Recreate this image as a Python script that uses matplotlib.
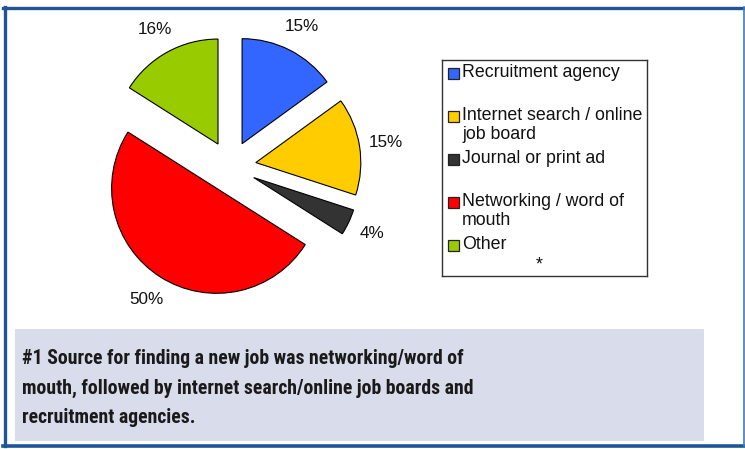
import matplotlib
matplotlib.use("Agg")
import matplotlib.pyplot as plt
from matplotlib.patches import Rectangle
from matplotlib.lines import Line2D

# ---- data ----
categories = ["Recruitment agency", "Internet search / online\njob board",
              "Journal or print ad", "Networking / word of\nmouth", "Other"]
values = [15, 15, 4, 50, 16]
colors = ["#3366FF", "#FFCC00", "#333333", "#FF0000", "#99CC00"]
caption = ("#1 Source for finding a new job was networking/word of\n"
           "mouth, followed by internet search/online job boards and\n"
           "recruitment agencies.")

W, H = 745, 449
fig = plt.figure(figsize=(W / 100, H / 100), dpi=100)
fig.patch.set_facecolor("white")

def fx(x):
    return x / W

def fy(y):
    return 1 - y / H

# ---- outer frame ----
border = "#1F5597"
fig.add_artist(Line2D([fx(3), fx(744)], [fy(7.5), fy(7.5)], color=border, lw=2.4, transform=fig.transFigure))
fig.add_artist(Line2D([fx(4.5), fx(4.5)], [fy(6.5), fy(446)], color=border, lw=2.4, transform=fig.transFigure))
fig.add_artist(Line2D([fx(3), fx(745)], [fy(445.5), fy(445.5)], color=border, lw=2.6, transform=fig.transFigure))
fig.add_artist(Line2D([fx(743.8), fx(743.8)], [fy(6.5), fy(446)], color="#3D7CC0", lw=1.2, transform=fig.transFigure))

# ---- caption box ----
fig.add_artist(Rectangle((fx(15), fy(441)), fx(704) - fx(15), fy(329) - fy(441),
                         facecolor="#D9DCEA", edgecolor="none", transform=fig.transFigure))
fig.text(fx(22), fy(388), caption, ha="left", va="center", fontsize=14.2,
         fontweight="bold", family=["Roboto Condensed", "DejaVu Sans"],
         color="#1a1a1a", linespacing=1.68)

# ---- pie ----
R = 105.0
cx, cy = 230.4, 166.6
ax_l, ax_r, ax_t, ax_b = 10, 430, 12, 320
ax = fig.add_axes([fx(ax_l), fy(ax_b), fx(ax_r) - fx(ax_l), fy(ax_t) - fy(ax_b)])
wedges, texts, autotexts = ax.pie(
    values, colors=colors, explode=[0.245] * len(values), startangle=90,
    counterclock=False, autopct="%1.0f%%", pctdistance=1.25, radius=1,
    wedgeprops=dict(edgecolor="black", linewidth=0.8),
    textprops=dict(fontsize=12.3, family="Liberation Sans", color="#111111"))
ax.set_xlim((ax_l - cx) / R, (ax_r - cx) / R)
ax.set_ylim((cy - ax_b) / R, (cy - ax_t) / R)
ax.set_aspect("auto")
ax.axis("off")

# ---- legend ----
lx0, ly0, lx1, ly1 = 442, 60, 647, 276
lax = fig.add_axes([fx(lx0), fy(ly1), fx(lx1) - fx(lx0), fy(ly0) - fy(ly1)])
lax.set_xlim(0, lx1 - lx0)
lax.set_ylim(ly1 - ly0, 0)
lax.set_xticks([])
lax.set_yticks([])
for s in lax.spines.values():
    s.set_color("#333333")
    s.set_linewidth(1.0)
row_y = 13.5
row_step = 43
for i, (lab, col) in enumerate(zip(categories, colors)):
    yy = row_y + i * row_step
    lax.add_patch(Rectangle((5.5, yy - 5.5), 11, 11, facecolor=col, edgecolor="#222222", lw=0.9))
    lax.text(20, yy - 9.5, lab, ha="left", va="top", fontsize=12.8,
             family="Liberation Sans", color="#111111", linespacing=1.12)
lax.text(97, row_y + 4 * row_step + 19, "*", ha="center", va="center",
         fontsize=12.8, family="Liberation Sans", color="#111111")

fig.savefig("out.png", dpi=100)
